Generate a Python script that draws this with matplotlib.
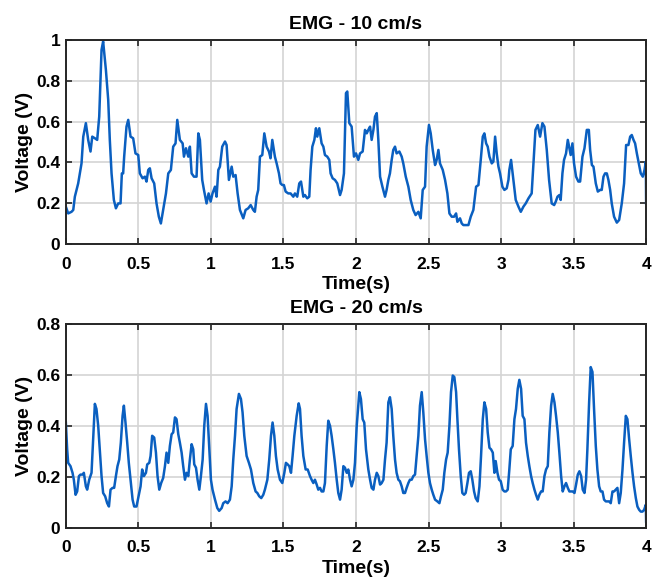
import numpy as np
import matplotlib
matplotlib.use("Agg")
import matplotlib.pyplot as plt
from matplotlib.ticker import FuncFormatter, MultipleLocator

plt.rcParams['font.family'] = ['Liberation Sans', 'DejaVu Sans']

# EMG - 10 cm/s
t_10 = [0.000, 0.016, 0.039, 0.051, 0.062, 0.085, 0.108, 0.120, 0.138, 0.154, 0.170, 0.182, 0.200, 0.216,
        0.230, 0.246, 0.257, 0.276, 0.292, 0.303, 0.315, 0.331, 0.345, 0.361, 0.377, 0.386, 0.395, 0.402,
        0.418, 0.430, 0.446, 0.464, 0.480, 0.499, 0.510, 0.529, 0.545, 0.556, 0.568, 0.579, 0.591, 0.609,
        0.625, 0.641, 0.655, 0.671, 0.690, 0.706, 0.724, 0.740, 0.756, 0.768, 0.786, 0.805, 0.814, 0.828,
        0.844, 0.855, 0.867, 0.883, 0.901, 0.913, 0.924, 0.940, 0.952, 0.970, 0.984, 0.998, 1.011, 1.028,
        1.039, 1.051, 1.062, 1.078, 1.097, 1.108, 1.124, 1.143, 1.154, 1.170, 1.184, 1.200, 1.223, 1.239,
        1.257, 1.274, 1.292, 1.303, 1.315, 1.326, 1.338, 1.354, 1.368, 1.384, 1.400, 1.411, 1.423, 1.441,
        1.453, 1.469, 1.480, 1.492, 1.503, 1.515, 1.533, 1.549, 1.568, 1.579, 1.595, 1.609, 1.621, 1.637,
        1.648, 1.664, 1.678, 1.687, 1.699, 1.713, 1.724, 1.733, 1.747, 1.763, 1.775, 1.786, 1.802, 1.816,
        1.825, 1.839, 1.855, 1.871, 1.890, 1.901, 1.917, 1.931, 1.940, 1.954, 1.970, 1.986, 2.000, 2.016,
        2.028, 2.046, 2.062, 2.074, 2.085, 2.097, 2.108, 2.120, 2.131, 2.143, 2.154, 2.166, 2.182, 2.200,
        2.211, 2.223, 2.234, 2.246, 2.257, 2.269, 2.280, 2.299, 2.315, 2.326, 2.343, 2.361, 2.377, 2.395,
        2.411, 2.430, 2.446, 2.460, 2.476, 2.487, 2.503, 2.515, 2.529, 2.545, 2.556, 2.568, 2.579, 2.598,
        2.614, 2.630, 2.644, 2.660, 2.676, 2.690, 2.699, 2.717, 2.729, 2.740, 2.759, 2.775, 2.791, 2.809,
        2.828, 2.844, 2.860, 2.874, 2.885, 2.897, 2.908, 2.920, 2.936, 2.947, 2.959, 2.970, 2.982, 2.993,
        3.009, 3.023, 3.039, 3.051, 3.057, 3.069, 3.085, 3.101, 3.120, 3.136, 3.154, 3.170, 3.189, 3.211,
        3.223, 3.237, 3.253, 3.269, 3.285, 3.299, 3.315, 3.331, 3.349, 3.366, 3.377, 3.389, 3.402, 3.411,
        3.423, 3.434, 3.448, 3.460, 3.469, 3.480, 3.492, 3.503, 3.517, 3.533, 3.545, 3.561, 3.575, 3.591,
        3.605, 3.614, 3.626, 3.637, 3.653, 3.667, 3.683, 3.694, 3.706, 3.717, 3.729, 3.740, 3.752, 3.763,
        3.779, 3.798, 3.814, 3.832, 3.848, 3.862, 3.878, 3.890, 3.901, 3.913, 3.924, 3.936, 3.952, 3.963,
        3.977, 3.989, 3.998, 4.000]
v_10 = [0.183, 0.150, 0.158, 0.167, 0.232, 0.297, 0.395, 0.526, 0.592, 0.510, 0.453, 0.526, 0.518, 0.510,
        0.624, 0.951, 0.992, 0.853, 0.706, 0.510, 0.346, 0.216, 0.175, 0.199, 0.199, 0.346, 0.346, 0.428,
        0.575, 0.608, 0.526, 0.518, 0.444, 0.436, 0.346, 0.322, 0.330, 0.306, 0.363, 0.371, 0.322, 0.297,
        0.199, 0.134, 0.101, 0.167, 0.248, 0.346, 0.363, 0.477, 0.493, 0.608, 0.510, 0.493, 0.428, 0.469,
        0.428, 0.477, 0.346, 0.330, 0.330, 0.542, 0.510, 0.314, 0.265, 0.199, 0.248, 0.208, 0.248, 0.281,
        0.232, 0.363, 0.379, 0.477, 0.502, 0.485, 0.314, 0.379, 0.330, 0.338, 0.248, 0.167, 0.126, 0.167,
        0.175, 0.191, 0.167, 0.158, 0.232, 0.265, 0.428, 0.436, 0.542, 0.477, 0.453, 0.420, 0.510, 0.428,
        0.395, 0.346, 0.297, 0.289, 0.289, 0.257, 0.248, 0.248, 0.232, 0.248, 0.232, 0.297, 0.306, 0.232,
        0.240, 0.224, 0.232, 0.363, 0.477, 0.510, 0.567, 0.526, 0.567, 0.493, 0.477, 0.436, 0.428, 0.412,
        0.346, 0.322, 0.314, 0.297, 0.240, 0.265, 0.346, 0.739, 0.747, 0.592, 0.575, 0.428, 0.444, 0.412,
        0.444, 0.453, 0.559, 0.542, 0.559, 0.575, 0.510, 0.559, 0.624, 0.641, 0.510, 0.330, 0.281, 0.232,
        0.265, 0.314, 0.346, 0.412, 0.461, 0.477, 0.444, 0.453, 0.428, 0.395, 0.330, 0.281, 0.216, 0.167,
        0.142, 0.158, 0.126, 0.265, 0.281, 0.477, 0.583, 0.542, 0.461, 0.387, 0.412, 0.461, 0.395, 0.363,
        0.314, 0.248, 0.150, 0.134, 0.134, 0.150, 0.109, 0.126, 0.101, 0.093, 0.093, 0.093, 0.134, 0.167,
        0.281, 0.289, 0.412, 0.526, 0.542, 0.493, 0.477, 0.428, 0.395, 0.404, 0.526, 0.444, 0.379, 0.346,
        0.281, 0.265, 0.273, 0.314, 0.363, 0.412, 0.314, 0.216, 0.183, 0.158, 0.183, 0.199, 0.224, 0.248,
        0.395, 0.559, 0.583, 0.526, 0.592, 0.575, 0.461, 0.314, 0.199, 0.191, 0.208, 0.232, 0.240, 0.216,
        0.346, 0.412, 0.444, 0.510, 0.477, 0.436, 0.493, 0.395, 0.330, 0.306, 0.306, 0.428, 0.469, 0.559,
        0.559, 0.461, 0.387, 0.379, 0.297, 0.257, 0.265, 0.265, 0.330, 0.346, 0.346, 0.314, 0.265, 0.199,
        0.134, 0.105, 0.118, 0.199, 0.297, 0.485, 0.485, 0.526, 0.534, 0.510, 0.493, 0.444, 0.387, 0.346,
        0.330, 0.363, 0.404, 0.199]

# EMG - 20 cm/s
t_20 = [0.000, 0.009, 0.016, 0.032, 0.046, 0.055, 0.067, 0.078, 0.090, 0.101, 0.115, 0.124, 0.138, 0.147,
        0.161, 0.177, 0.189, 0.200, 0.211, 0.223, 0.234, 0.246, 0.257, 0.271, 0.285, 0.297, 0.308, 0.322,
        0.333, 0.345, 0.356, 0.368, 0.379, 0.391, 0.400, 0.411, 0.423, 0.434, 0.446, 0.460, 0.471, 0.487,
        0.501, 0.515, 0.526, 0.538, 0.552, 0.561, 0.575, 0.584, 0.595, 0.609, 0.621, 0.632, 0.644, 0.657,
        0.671, 0.683, 0.694, 0.706, 0.717, 0.729, 0.740, 0.752, 0.763, 0.775, 0.786, 0.798, 0.809, 0.821,
        0.832, 0.844, 0.855, 0.867, 0.878, 0.885, 0.897, 0.908, 0.920, 0.931, 0.943, 0.954, 0.966, 0.977,
        0.989, 1.000, 1.011, 1.028, 1.044, 1.057, 1.074, 1.085, 1.101, 1.115, 1.131, 1.143, 1.154, 1.166,
        1.177, 1.193, 1.207, 1.218, 1.230, 1.246, 1.262, 1.276, 1.292, 1.308, 1.320, 1.333, 1.347, 1.361,
        1.372, 1.389, 1.402, 1.414, 1.425, 1.437, 1.448, 1.460, 1.476, 1.492, 1.506, 1.517, 1.529, 1.540,
        1.552, 1.563, 1.575, 1.591, 1.605, 1.614, 1.625, 1.637, 1.653, 1.667, 1.683, 1.694, 1.706, 1.717,
        1.729, 1.740, 1.752, 1.763, 1.775, 1.786, 1.798, 1.809, 1.821, 1.832, 1.844, 1.855, 1.867, 1.878,
        1.890, 1.901, 1.913, 1.924, 1.936, 1.947, 1.959, 1.970, 1.982, 1.993, 2.005, 2.023, 2.034, 2.046,
        2.057, 2.069, 2.085, 2.097, 2.108, 2.120, 2.131, 2.143, 2.154, 2.166, 2.177, 2.189, 2.200, 2.211,
        2.223, 2.234, 2.246, 2.257, 2.269, 2.280, 2.292, 2.303, 2.315, 2.326, 2.338, 2.349, 2.361, 2.372,
        2.384, 2.395, 2.407, 2.418, 2.430, 2.441, 2.453, 2.464, 2.476, 2.487, 2.499, 2.510, 2.522, 2.533,
        2.545, 2.561, 2.575, 2.586, 2.598, 2.609, 2.621, 2.632, 2.644, 2.655, 2.667, 2.678, 2.690, 2.699,
        2.710, 2.722, 2.733, 2.745, 2.756, 2.768, 2.779, 2.791, 2.802, 2.814, 2.825, 2.839, 2.851, 2.862,
        2.874, 2.885, 2.897, 2.908, 2.920, 2.931, 2.943, 2.954, 2.963, 2.975, 2.986, 2.998, 3.011, 3.023,
        3.034, 3.046, 3.057, 3.067, 3.080, 3.092, 3.103, 3.115, 3.126, 3.138, 3.149, 3.161, 3.172, 3.184,
        3.195, 3.207, 3.218, 3.230, 3.241, 3.253, 3.264, 3.276, 3.287, 3.299, 3.310, 3.322, 3.333, 3.345,
        3.356, 3.368, 3.379, 3.391, 3.402, 3.414, 3.425, 3.437, 3.448, 3.460, 3.471, 3.483, 3.494, 3.506,
        3.517, 3.529, 3.540, 3.552, 3.563, 3.575, 3.586, 3.595, 3.607, 3.618, 3.630, 3.641, 3.653, 3.664,
        3.676, 3.687, 3.699, 3.710, 3.722, 3.733, 3.745, 3.756, 3.768, 3.779, 3.791, 3.802, 3.814, 3.825,
        3.837, 3.848, 3.860, 3.871, 3.883, 3.894, 3.906, 3.917, 3.929, 3.940, 3.952, 3.963, 3.975, 3.986,
        3.998, 4.000]
v_20 = [0.413, 0.308, 0.255, 0.242, 0.216, 0.189, 0.130, 0.143, 0.203, 0.209, 0.209, 0.216, 0.163, 0.150,
        0.189, 0.216, 0.361, 0.486, 0.466, 0.400, 0.308, 0.203, 0.137, 0.124, 0.097, 0.084, 0.150, 0.157,
        0.157, 0.203, 0.242, 0.268, 0.334, 0.439, 0.479, 0.413, 0.334, 0.255, 0.189, 0.111, 0.084, 0.084,
        0.124, 0.163, 0.229, 0.203, 0.216, 0.249, 0.255, 0.282, 0.361, 0.354, 0.295, 0.203, 0.150, 0.176,
        0.196, 0.242, 0.295, 0.255, 0.321, 0.367, 0.374, 0.433, 0.426, 0.367, 0.334, 0.295, 0.242, 0.189,
        0.216, 0.203, 0.268, 0.328, 0.308, 0.249, 0.236, 0.189, 0.150, 0.203, 0.268, 0.400, 0.486, 0.439,
        0.308, 0.189, 0.150, 0.111, 0.078, 0.067, 0.078, 0.097, 0.104, 0.097, 0.111, 0.163, 0.268, 0.361,
        0.466, 0.525, 0.505, 0.453, 0.361, 0.282, 0.255, 0.229, 0.176, 0.143, 0.137, 0.124, 0.117, 0.130,
        0.150, 0.189, 0.268, 0.361, 0.413, 0.361, 0.282, 0.229, 0.189, 0.176, 0.216, 0.255, 0.249, 0.242,
        0.216, 0.282, 0.361, 0.439, 0.488, 0.466, 0.361, 0.282, 0.229, 0.229, 0.203, 0.189, 0.176, 0.189,
        0.170, 0.150, 0.157, 0.143, 0.143, 0.176, 0.321, 0.420, 0.400, 0.361, 0.308, 0.255, 0.189, 0.137,
        0.111, 0.150, 0.242, 0.236, 0.216, 0.229, 0.189, 0.163, 0.189, 0.255, 0.400, 0.532, 0.505, 0.426,
        0.413, 0.308, 0.229, 0.189, 0.157, 0.150, 0.189, 0.216, 0.203, 0.170, 0.176, 0.189, 0.268, 0.334,
        0.492, 0.512, 0.466, 0.361, 0.268, 0.216, 0.189, 0.183, 0.163, 0.137, 0.137, 0.157, 0.176, 0.189,
        0.189, 0.203, 0.209, 0.282, 0.361, 0.479, 0.532, 0.453, 0.347, 0.282, 0.216, 0.176, 0.150, 0.130,
        0.111, 0.104, 0.097, 0.124, 0.150, 0.216, 0.268, 0.295, 0.400, 0.532, 0.597, 0.591, 0.532, 0.426,
        0.308, 0.203, 0.137, 0.130, 0.137, 0.176, 0.216, 0.222, 0.189, 0.143, 0.117, 0.104, 0.163, 0.282,
        0.426, 0.492, 0.466, 0.374, 0.314, 0.308, 0.295, 0.216, 0.262, 0.216, 0.189, 0.183, 0.150, 0.143,
        0.143, 0.150, 0.229, 0.308, 0.321, 0.426, 0.466, 0.545, 0.580, 0.545, 0.439, 0.426, 0.334, 0.282,
        0.242, 0.203, 0.176, 0.150, 0.130, 0.111, 0.130, 0.143, 0.143, 0.203, 0.229, 0.242, 0.374, 0.479,
        0.525, 0.492, 0.439, 0.374, 0.295, 0.203, 0.143, 0.163, 0.176, 0.157, 0.143, 0.143, 0.143, 0.137,
        0.170, 0.209, 0.222, 0.203, 0.150, 0.137, 0.189, 0.308, 0.492, 0.630, 0.611, 0.466, 0.321, 0.229,
        0.163, 0.143, 0.143, 0.111, 0.104, 0.104, 0.104, 0.097, 0.143, 0.143, 0.150, 0.157, 0.097, 0.137,
        0.229, 0.334, 0.439, 0.426, 0.347, 0.282, 0.216, 0.163, 0.117, 0.084, 0.071, 0.064, 0.064, 0.071,
        0.091, 0.025]

panels = [
    ("EMG - 10 cm/s", t_10, v_10, 1.0),
    ("EMG - 20 cm/s", t_20, v_20, 0.8),
]

line_color = '#0a5fc0'

fig = plt.figure(figsize=(6.52, 5.77), dpi=100)
ax_top = fig.add_axes([0.101, 0.577, 0.890, 0.354])
ax_bot = fig.add_axes([0.101, 0.085, 0.890, 0.354])

fmt = FuncFormatter(lambda v, pos: '%g' % round(v, 2))

for ax, (title, t, v, ymax) in zip([ax_top, ax_bot], panels):
    ax.plot(t, v, color=line_color, linewidth=1.8)
    ax.set_xlim(0, 4)
    ax.set_ylim(0, ymax)
    ax.xaxis.set_major_locator(MultipleLocator(0.5))
    ax.yaxis.set_major_locator(MultipleLocator(0.2))
    ax.xaxis.set_major_formatter(fmt)
    ax.yaxis.set_major_formatter(fmt)
    ax.grid(True, color='#d4d4d4', linewidth=1.2)
    ax.set_axisbelow(True)
    ax.tick_params(direction='in', length=4, width=1.2, top=True, right=True,
                   labelsize=12.5, colors='#262626', labelcolor='black')
    ax.tick_params(axis='x', pad=9)
    ax.tick_params(axis='y', pad=4)
    for lab in ax.get_xticklabels() + ax.get_yticklabels():
        lab.set_fontweight('bold')
    for s in ax.spines.values():
        s.set_color('#262626')
        s.set_linewidth(1.4)
    ax.set_title(title, fontsize=14, fontweight='bold', pad=8)
    ax.set_xlabel('Time(s)', fontsize=14, fontweight='bold', labelpad=3)
    ax.set_ylabel('Voltage (V)', fontsize=14, fontweight='bold', labelpad=2)

fig.savefig('out.png', dpi=100)
